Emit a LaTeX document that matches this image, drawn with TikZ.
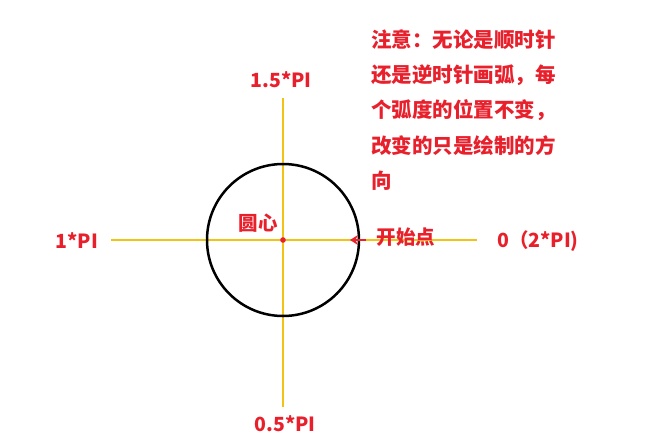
\documentclass[tikz,border=0pt]{standalone}
\usepackage{fontspec}
\setmainfont{Noto Sans CJK SC}
\usetikzlibrary{arrows.meta}
\definecolor{notered}{HTML}{E8202C}
\definecolor{axisyellow}{HTML}{F2C314}

\begin{document}
\begin{tikzpicture}[x=1pt,y=-1pt,
  lbl/.style={text=notered,font=\bfseries\fontsize{19.5}{23}\selectfont,inner sep=0pt},
  axis/.style={draw=axisyellow,line width=2.8pt}]

\useasboundingbox (0,0) rectangle (648,445);

\coordinate (o) at (283,240);
\coordinate (left) at (111,240);
\coordinate (right) at (477,240);
\coordinate (top) at (283,98);
\coordinate (bottom) at (283,407);
\coordinate (start) at (350,240);
\coordinate (tail) at (366,240);

\draw [axis] (left) -- (right);
\draw [axis] (top) -- (bottom);

\draw [line width=2.5pt] (o) circle (76);

\fill [notered] (o) circle (2.8);
\draw [notered,line width=2.4pt,-{Stealth[length=8pt,width=10pt]}] (tail) -- (start);

\node [lbl] (upper) at (281,80) {1.5*PI};
\node [lbl] (lower) at (285,424) {0.5*PI};
\node [lbl] (pi) at (77,241) {1*PI};
\node [lbl,anchor=west] (zero) at (497,241) {0（2*PI)};
\node [lbl] (centre) at (258,223) {圆心};
\node [lbl] (begin) at (406,237) {开始点};

% note
\foreach \i/\t in {1/注意：无论是顺时针,2/还是逆时针画弧，每,3/个弧度的位置不变，,4/改变的只是绘制的方,5/向}
  \node [lbl,anchor=west,font=\bfseries\fontsize{20.5}{24}\selectfont] (note\i) at (371,{40+35.3*(\i-1)}) {\t};

\end{tikzpicture}
\end{document}
